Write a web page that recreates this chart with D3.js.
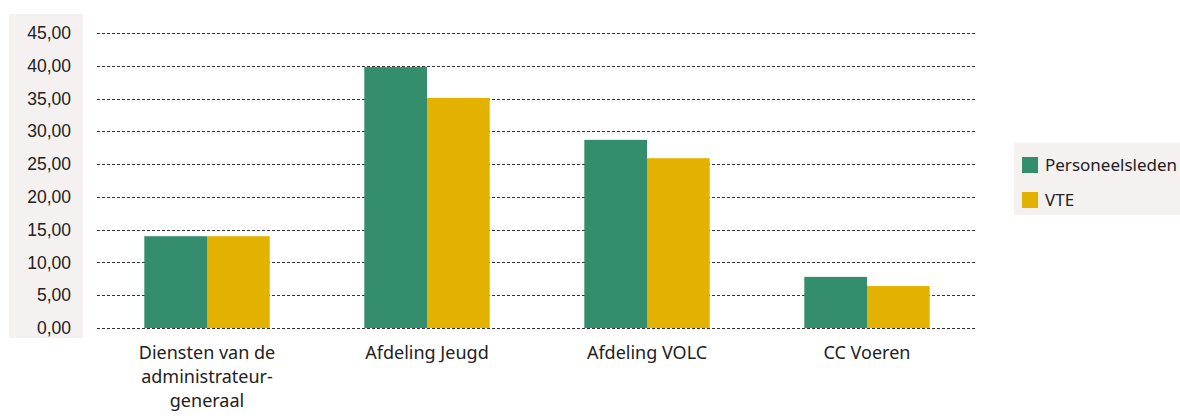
<!DOCTYPE html>
<html>
<head>
<meta charset="utf-8">
<script src="https://cdn.jsdelivr.net/npm/d3@7"></script>
<style>
  body { margin: 0; background: #fff; }
  svg { font-family: "Noto Sans", "Open Sans", sans-serif; font-variant-numeric: oldstyle-nums; }
</style>
</head>
<body>
<div id="chart"></div>
<script>
// data
var categories = [["Diensten van de", "administrateur-", "generaal"], ["Afdeling Jeugd"], ["Afdeling VOLC"], ["CC Voeren"]];
var seriesNames = ["Personeelsleden", "VTE"];
var personeelsleden = [14, 39.8, 28.7, 7.8];
var vte = [14, 35.1, 25.9, 6.4];
var yTicks = [0, 5, 10, 15, 20, 25, 30, 35, 40, 45];
var colors = ["#348d6d", "#e3b100"];

var width = 1180, height = 419;
var margin = { top: 33, left: 97, right: 203, bottom: 91 };
var plotW = width - margin.left - margin.right,
    plotH = height - margin.top - margin.bottom;

var svg = d3.select("#chart").append("svg")
  .attr("width", width)
  .attr("height", height);

// grey panel behind the y axis labels
svg.append("rect")
  .attr("x", 9).attr("y", 14)
  .attr("width", 74).attr("height", 324)
  .attr("fill", "#f4f1f0");

var g = svg.append("g")
  .attr("transform", "translate(" + margin.left + "," + margin.top + ")");

var x0 = d3.scaleBand()
  .domain(d3.range(categories.length))
  .range([0, plotW])
  .paddingInner(0.43)
  .paddingOuter(0.215);

var x1 = d3.scaleBand()
  .domain(d3.range(seriesNames.length))
  .range([0, x0.bandwidth()]);

var y = d3.scaleLinear()
  .domain([0, 45])
  .range([plotH, 0]);

// gridlines
g.selectAll(".grid")
  .data(yTicks)
  .enter()
  .append("line")
  .attr("x1", 0)
  .attr("x2", plotW - 2)
  .attr("y1", function(d) { return Math.round(y(d)) + 0.5; })
  .attr("y2", function(d) { return Math.round(y(d)) + 0.5; })
  .attr("stroke", "#333")
  .attr("stroke-width", 1)
  .attr("stroke-dasharray", "3,2");

// y axis labels
var y_axis = d3.axisLeft(y)
  .tickValues(yTicks)
  .tickSize(0)
  .tickPadding(26)
  .tickFormat(function(d) { return d3.format(".2f")(d).replace(".", ","); });

var ya = g.append("g").call(y_axis);
ya.select(".domain").remove();
ya.selectAll("text")
  .attr("font-size", 17.5)
  .attr("fill", "#222")
  .style("font-family", "inherit");

// bars
var series = [personeelsleden, vte];
series.forEach(function(vals, s) {
  g.selectAll(".bar" + s)
    .data(vals)
    .enter()
    .append("rect")
    .attr("x", function(d, i) { return x0(i) + x1(s); })
    .attr("width", x1.bandwidth())
    .attr("y", function(d) { return y(d); })
    .attr("height", function(d) { return plotH - y(d); })
    .attr("fill", colors[s]);
});

// x labels
var xl = g.selectAll(".xlab")
  .data(categories)
  .enter()
  .append("text")
  .attr("text-anchor", "middle")
  .attr("font-size", 18)
  .attr("fill", "#222")
  .style("font-variant-numeric", "normal")
  .attr("transform", function(d, i) {
    return "translate(" + (x0(i) + x0.bandwidth() / 2) + "," + (plotH + 31) + ")";
  });
xl.selectAll("tspan")
  .data(function(d) { return d; })
  .enter()
  .append("tspan")
  .attr("x", 0)
  .attr("dy", function(d, j) { return j === 0 ? 0 : 24; })
  .text(function(d) { return d; });

// legend
var legend = svg.append("g").attr("transform", "translate(1014,143)");
legend.append("rect")
  .attr("width", 166).attr("height", 72)
  .attr("fill", "#f4f1f0");
var items = legend.selectAll(".item")
  .data(seriesNames)
  .enter()
  .append("g")
  .attr("transform", function(d, i) { return "translate(8," + (14 + i * 35) + ")"; });
items.append("rect")
  .attr("width", 16).attr("height", 16)
  .attr("fill", function(d, i) { return colors[i]; });
items.append("text")
  .attr("x", 23)
  .attr("y", 14)
  .attr("font-size", 17)
  .attr("fill", "#222")
  .text(function(d) { return d; });
</script>
</body>
</html>
